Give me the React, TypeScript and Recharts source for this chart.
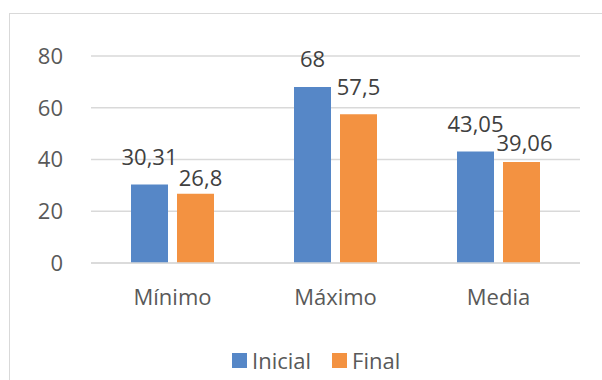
import React from "react";
import { BarChart, Bar, XAxis, YAxis, CartesianGrid, Legend, LabelList } from "recharts";

const categories = ["Mínimo", "Máximo", "Media"];
const inicial = [30.31, 68, 43.05];
const final = [26.8, 57.5, 39.06];
const yTicks = [0, 20, 40, 60, 80];

// Excel nudged a few labels to avoid collisions
const finalLift = [8, 19, 11];
const finalShift = [5, 0, 3];

const data = categories.map((name, i) => ({ name, inicial: inicial[i], final: final[i] }));

const BLUE = "#5687c7";
const ORANGE = "#f39241";
const FONT = "'Open Sans', sans-serif";

const fmt = (v: number) => String(v).replace(".", ",");

const makeLabel = (lift: number[], shift: number[]) => (props: any) => {
  const { x, y, width, value, index } = props;
  return (
    <text
      x={Number(x) + Number(width) / 2 + shift[index]}
      y={Number(y) - lift[index]}
      textAnchor="middle"
      fill="#404040"
      fontSize={22}
      fontFamily={FONT}
    >
      {fmt(value)}
    </text>
  );
};

const LegendContent = () => (
  <div
    style={{
      height: 36,
      display: "flex",
      alignItems: "center",
      paddingBottom: 4,
      boxSizing: "border-box",
      fontFamily: FONT,
      fontSize: 22,
      color: "#595959",
    }}
  >
    {[
      { label: "Inicial", color: BLUE },
      { label: "Final", color: ORANGE },
    ].map((item, i) => (
      <div key={item.label} style={{ display: "flex", alignItems: "center", marginLeft: i ? 21 : 0 }}>
        <span style={{ width: 15, height: 15, background: item.color, display: "inline-block", marginRight: 5 }} />
        <span>{item.label}</span>
      </div>
    ))}
  </div>
);

const App = () => {
  return (
    <div style={{ position: "fixed", left: 0, top: 0, width: 602, height: 380, overflow: "hidden", background: "#fff" }}>
      <div
        style={{
          position: "absolute",
          left: 9,
          top: 13,
          width: 700,
          height: 500,
          border: "1px solid #d9d9d9",
        }}
      />
      <div style={{ position: "absolute", left: 0, top: 0 }}>
        <BarChart
          width={602}
          height={380}
          data={data}
          margin={{ top: 56, right: 22, bottom: 0, left: 0 }}
          barCategoryGap={40}
          barGap={9}
        >
          <CartesianGrid vertical={false} stroke="#d9d9d9" strokeWidth={1.5} />
          <XAxis
            dataKey="name"
            height={81}
            axisLine={{ stroke: "#d9d9d9", strokeWidth: 1.5 }}
            tickLine={false}
            tickSize={0}
            tickMargin={26}
            tick={{ fill: "#595959", fontSize: 22, fontFamily: FONT }}
          />
          <YAxis
            width={91}
            domain={[0, 80]}
            ticks={yTicks}
            axisLine={false}
            tickLine={false}
            tickSize={0}
            tickMargin={28}
            tick={{ fill: "#595959", fontSize: 22, fontFamily: FONT }}
          />
          <Legend
            verticalAlign="bottom"
            content={<LegendContent />}
            wrapperStyle={{ left: 232, width: "auto" }}
          />
          <Bar dataKey="inicial" name="Inicial" fill={BLUE} isAnimationActive={false}>
            <LabelList dataKey="inicial" content={makeLabel([20, 20, 20], [0, 0, 0])} />
          </Bar>
          <Bar dataKey="final" name="Final" fill={ORANGE} isAnimationActive={false}>
            <LabelList dataKey="final" content={makeLabel(finalLift, finalShift)} />
          </Bar>
        </BarChart>
      </div>
    </div>
  );
};

export default App;
